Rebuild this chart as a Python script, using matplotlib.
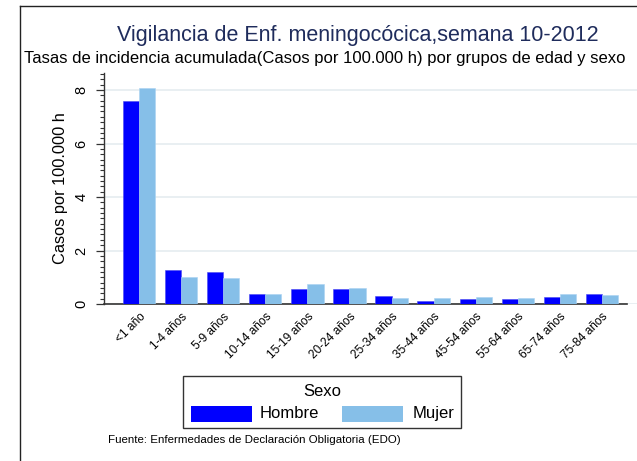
import matplotlib
matplotlib.use("Agg")
import matplotlib.pyplot as plt
import numpy as np
from matplotlib.lines import Line2D
from matplotlib.patches import Rectangle
from matplotlib.ticker import MultipleLocator

plt.rcParams['font.family'] = ['Liberation Sans', 'DejaVu Sans']

categories = ['<1 año', '1-4 años', '5-9 años', '10-14 años', '15-19 años', '20-24 años',
              '25-34 años', '35-44 años', '45-54 años', '55-64 años', '65-74 años', '75-84 años']
hombre = [7.59, 1.27, 1.18, 0.36, 0.56, 0.57, 0.30, 0.12, 0.19, 0.19, 0.27, 0.36]
mujer = [8.07, 1.01, 0.96, 0.39, 0.75, 0.59, 0.22, 0.22, 0.27, 0.21, 0.37, 0.34]
series_names = ['Hombre', 'Mujer']
colors = ['#0000FF', '#86BFE8']

W, H = 637, 461
fig = plt.figure(figsize=(W / 100, H / 100), dpi=100)

def fx(px):
    return px / W

def fy(py):
    return 1 - py / H

ax = fig.add_axes([fx(104), fy(304), fx(637) - fx(104), fy(72.7) - fy(304)])

x = np.arange(len(categories))
bw = 0.381
ax.bar(x - bw / 2, hombre, width=bw, color=colors[0], edgecolor='#4a4af0', linewidth=0.4, zorder=3)
ax.bar(x + bw / 2, mujer, width=bw, color=colors[1], edgecolor='#a9d3f2', linewidth=0.4, zorder=3)

ax.set_xlim(-0.845, 11.845)
ax.set_ylim(0, 8.65)
for s in ['top', 'right']:
    ax.spines[s].set_visible(False)
ax.spines['bottom'].set_bounds(-0.845, 11.607)
ax.spines['left'].set_color('#333333')
ax.spines['bottom'].set_color('#333333')
ax.spines['left'].set_linewidth(1.0)
ax.spines['bottom'].set_linewidth(1.2)

ax.yaxis.set_major_locator(MultipleLocator(2))
ax.yaxis.set_minor_locator(MultipleLocator(0.2))
ax.tick_params(axis='y', which='major', length=6, width=0.9, color='#333333', pad=5, labelsize=10.5)
ax.tick_params(axis='y', which='minor', length=3, width=0.8, color='#333333')
ax.set_yticks([0, 2, 4, 6, 8])
ax.set_yticklabels(['0', '2', '4', '6', '8'], rotation=90, va='center')
ax.grid(axis='y', color='#e7eef1', linewidth=1.3, zorder=0)
ax.set_axisbelow(True)

ax.set_xticks(x)
ax.set_xticklabels(categories, rotation=45, ha='right', rotation_mode='anchor', fontsize=8.6)
ax.tick_params(axis='x', length=0, pad=5)

ax.set_ylabel('Casos por 100.000 h', fontsize=11.8, labelpad=5)

# Titles
fig.text(fx(358), fy(35), 'Vigilancia de Enf. meningocócica,semana 10-2012', ha='center', va='center',
         fontsize=15.5, color='#1f2c5c')
fig.text(fx(325), fy(58), 'Tasas de incidencia acumulada(Casos por 100.000 h) por grupos de edad y sexo',
         ha='center', va='center', fontsize=12, color='black')

# Outer frame (left and top)
fig.add_artist(Line2D([fx(19.5), fx(19.5)], [0, fy(6.5)], transform=fig.transFigure, color='#222222', lw=1.0))
fig.add_artist(Line2D([fx(19.5), 1], [fy(6.5), fy(6.5)], transform=fig.transFigure, color='#222222', lw=1.0))

# Legend (manual)
fig.add_artist(Rectangle((fx(183.3), fy(428.3)), fx(461) - fx(183.3), fy(375.7) - fy(428.3),
                         transform=fig.transFigure, facecolor='white', edgecolor='#333333', lw=1.0))
fig.text(fx(322.7), fy(391.7), 'Sexo', ha='center', va='center', fontsize=12)
patch_x = [190.7, 342.3]
text_x = [259.3, 412.3]
for i, name in enumerate(series_names):
    fig.add_artist(Rectangle((fx(patch_x[i]), fy(421.7)), fx(60.8), fy(405.7) - fy(421.7),
                             transform=fig.transFigure, facecolor=colors[i], edgecolor='none'))
    fig.text(fx(text_x[i]), fy(413.7), name, ha='left', va='center', fontsize=12)

fig.text(fx(108), fy(440), 'Fuente: Enfermedades de Declaración Obligatoria (EDO)', ha='left', va='center',
         fontsize=8.25)

fig.savefig('out.png', dpi=100)
